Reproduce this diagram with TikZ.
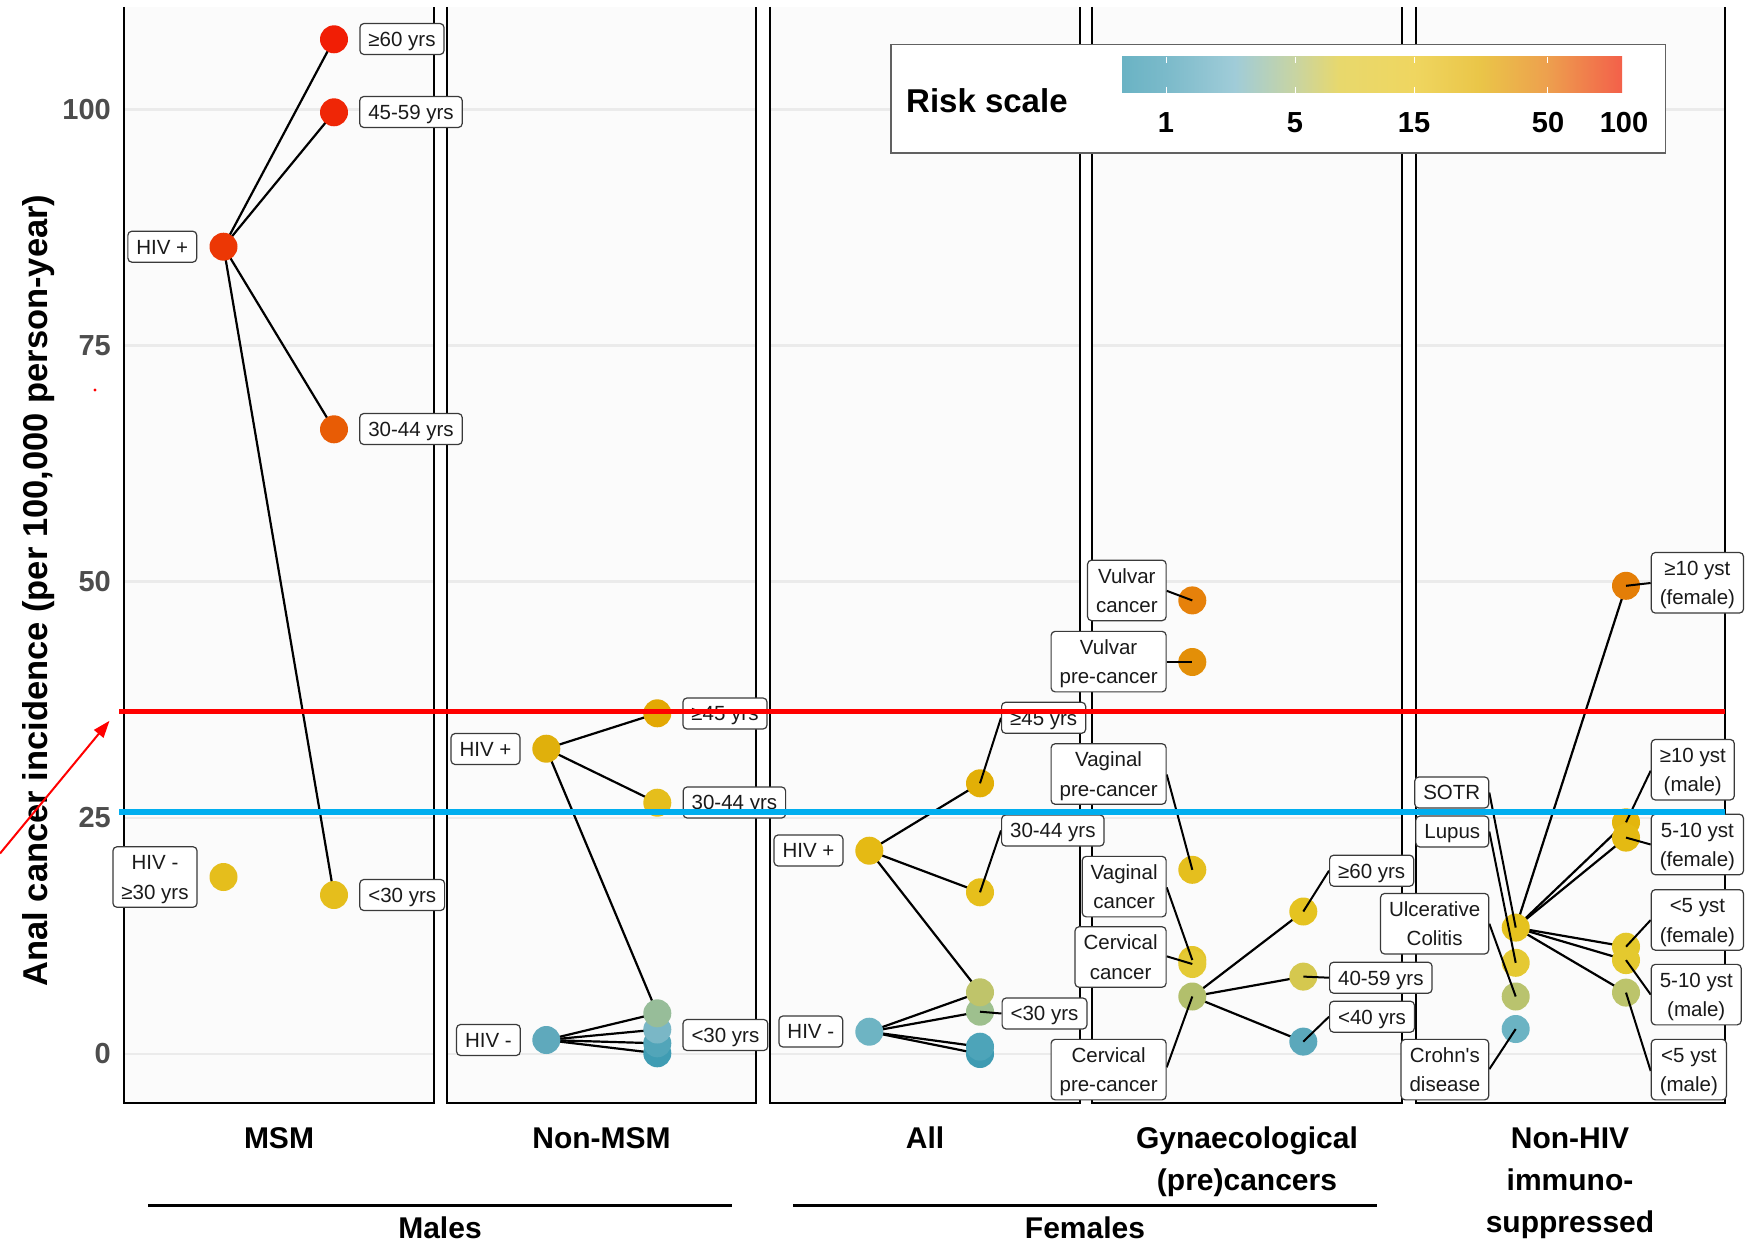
\documentclass[tikz,border=0pt]{standalone}
\usepackage{fontspec}
\setmainfont{Liberation Sans}[Ligatures=TeXOff]
\usetikzlibrary{arrows.meta}
\pgfdeclarelayer{back}
\pgfdeclarelayer{edges}
\pgfdeclarelayer{front}
\pgfsetlayers{back,edges,main,front}

\definecolor{panelbg}{HTML}{FBFBFB}
\definecolor{gridc}{HTML}{EBEBEB}
\definecolor{tickc}{HTML}{4D4D4D}
\definecolor{labborder}{HTML}{3A3A3A}
\definecolor{labtext}{HTML}{1A1A1A}
\definecolor{refred}{HTML}{FF0000}
\definecolor{refblue}{HTML}{00AEEF}
% risk scale
\definecolor{rs1}{HTML}{6AB3C4}
\definecolor{rs2}{HTML}{7BBACA}
\definecolor{rs3}{HTML}{A0CCD8}
\definecolor{rs4}{HTML}{C8D4A2}
\definecolor{rs5}{HTML}{E8D86C}
\definecolor{rs6}{HTML}{EFD660}
\definecolor{rs7}{HTML}{EAC548}
\definecolor{rs8}{HTML}{EDA04E}
\definecolor{rs9}{HTML}{F3604A}
% points
\definecolor{cRa}{HTML}{F11E05}
\definecolor{cRb}{HTML}{EF2606}
\definecolor{cRc}{HTML}{EC3705}
\definecolor{cOa}{HTML}{E85C05}
\definecolor{cYa}{HTML}{E5BE1C}
\definecolor{cNp}{HTML}{E0B00C}
\definecolor{cNa}{HTML}{E3A803}
\definecolor{cNn}{HTML}{5FA9BC}
\definecolor{cNc1}{HTML}{97BD99}
\definecolor{cNc2}{HTML}{7AB7C6}
\definecolor{cNc3}{HTML}{52A5B9}
\definecolor{cNc4}{HTML}{3F9CB3}
\definecolor{cAp}{HTML}{E5BA14}
\definecolor{cAa}{HTML}{E2AF06}
\definecolor{cAb}{HTML}{E6BF1B}
\definecolor{cAn}{HTML}{6EB4C3}
\definecolor{cAc1}{HTML}{BFC46A}
\definecolor{cAc2}{HTML}{9EC08E}
\definecolor{cAc3}{HTML}{4DA4B9}
\definecolor{cAc4}{HTML}{3E9BB2}
\definecolor{cGvc}{HTML}{E6810A}
\definecolor{cGvp}{HTML}{E38F08}
\definecolor{cGap}{HTML}{E5BF1E}
\definecolor{cGac}{HTML}{E4C52A}
\definecolor{cGcc}{HTML}{E4CA35}
\definecolor{cGcp}{HTML}{B2BF6C}
\definecolor{cGa}{HTML}{E5C320}
\definecolor{cGb}{HTML}{D5C84F}
\definecolor{cGc}{HTML}{5BA8BB}
\definecolor{cHa}{HTML}{E47E07}
\definecolor{cHb}{HTML}{E3B60E}
\definecolor{cHc}{HTML}{E4BA12}
\definecolor{cHd}{HTML}{E4C82A}
\definecolor{cHe}{HTML}{E4C92E}
\definecolor{cHf}{HTML}{BCC46B}
\definecolor{cHs}{HTML}{E5C21E}
\definecolor{cHl}{HTML}{E5C933}
\definecolor{cHu}{HTML}{B9C36E}
\definecolor{cHcr}{HTML}{6BB3C3}

\pgfdeclarehorizontalshading{riskshade}{100bp}{color(0bp)=(rs1); color(25bp)=(rs1); color(29.4bp)=(rs2); color(36.3bp)=(rs3); color(42.3bp)=(rs4); color(46.8bp)=(rs5); color(54.2bp)=(rs6); color(60.8bp)=(rs7); color(67.5bp)=(rs8); color(75bp)=(rs9); color(100bp)=(rs9)}

\newcommand{\lbs}{\rule[-4.3pt]{0pt}{23.3pt}}
\newcommand{\labfont}{\fontsize{20.5}{29.5}\selectfont}
\newcommand{\tickfont}{\fontsize{29}{34}\selectfont\bfseries}
\newcommand{\catfont}{\fontsize{30}{42}\selectfont\bfseries}
\newcommand{\titfont}{\fontsize{34.5}{40}\selectfont\bfseries}

\tikzset{
  pnt/.style={circle, minimum size=28pt, inner sep=0pt, draw=none},
  lab/.style={draw=labborder, line width=1.2pt, rounded corners=4pt, fill=white,
    text=labtext, inner xsep=8.5pt, inner ysep=3.85pt, align=center, font=\labfont},
  conn/.style={line width=2.2pt, black},
  leader/.style={line width=2pt, black},
  gridln/.style={line width=2.6pt, gridc},
  pborder/.style={line width=2.2pt, black},
  ticklab/.style={font=\tickfont, text=tickc, anchor=east, inner sep=0pt},
  catlab/.style={font=\catfont, text=black, anchor=base, inner sep=0pt},
  refline/.style={line width=5.2pt},
}

\begin{document}
\begin{tikzpicture}[x=1pt,y=-1pt]
\useasboundingbox (0,0) rectangle (1757,1244);

% ---------- panels ----------
\begin{pgfonlayer}{back}
\foreach \L/\R in {124/434, 447/756, 770/1080, 1092/1402, 1416/1725} {
  \fill[panelbg] (\L,7) rectangle (\R,1103);
  \foreach \v in {0,25,50,75,100}
    \draw[gridln] (\L,{1054-9.445*\v}) -- (\R,{1054-9.445*\v});
  \draw[pborder] (\L,7) -- (\L,1103) -- (\R,1103) -- (\R,7);
}
\end{pgfonlayer}

% ---------- y axis ----------
\node[ticklab] (t100) at (111,109.5) {100};
\node[ticklab] (t75) at (111,345.8) {75};
\node[ticklab] (t50) at (111,581.8) {50};
\node[ticklab] (t25) at (111,817.9) {25};
\node[ticklab] (t0) at (111,1054) {0};
\node[font=\titfont, rotate=90, anchor=base, inner sep=0pt] (ytitle) at (47,590.5)
  {Anal cancer incidence (per 100,000 person-year)};

% ---------- category labels ----------
\node[catlab] (cmsm) at (279,1148) {MSM};
\node[catlab] (cnon) at (601.5,1148) {Non-MSM};
\node[catlab] (call) at (925,1148) {All};
\node[catlab] (cgyn1) at (1247,1148) {Gynaecological};
\node[catlab] (cgyn2) at (1247,1190) {(pre)cancers};
\node[catlab] (chiv1) at (1570,1148) {Non-HIV};
\node[catlab] (chiv2) at (1570,1190) {immuno-};
\node[catlab] (chiv3) at (1570,1232) {suppressed};
\draw[line width=3pt] (148,1205) -- (732,1205);
\draw[line width=3pt] (793,1205) -- (1377,1205);
\node[catlab] (cmales) at (440,1238) {Males};
\node[catlab] (cfemales) at (1085,1238) {Females};

% ---------- legend ----------
\draw[draw=black!62, line width=1.5pt, fill=white] (891,44.5) rectangle (1665.5,153);
\node[font=\fontsize{33}{38}\selectfont\bfseries, anchor=base west, inner sep=0pt] (risk) at (906,112.5) {Risk scale};
\shade[shading=riskshade] (1122,57) rectangle (1622,93);
\foreach \x in {1166,1295,1414,1547} {
  \draw[white, line width=1pt] (\x,57) -- (\x,63) (\x,87) -- (\x,93);
}
\node[font=\tickfont, anchor=base, inner sep=0pt] (k1) at (1166,133) {1};
\node[font=\tickfont, anchor=base, inner sep=0pt] (k5) at (1295,133) {5};
\node[font=\tickfont, anchor=base, inner sep=0pt] (k15) at (1414,133) {15};
\node[font=\tickfont, anchor=base, inner sep=0pt] (k50) at (1548,133) {50};
\node[font=\tickfont, anchor=base, inner sep=0pt] (k100) at (1624,133) {100};

% ---------- points ----------
% MSM
\node[pnt, fill=cRa] (m60) at (334,39.3) {};
\node[pnt, fill=cRb] (m45) at (334,112.3) {};
\node[pnt, fill=cRc] (mp) at (223.5,246.7) {};
\node[pnt, fill=cOa] (m30) at (334,429.3) {};
\node[pnt, fill=cYa] (mn) at (223.5,877) {};
\node[pnt, fill=cYa] (m0) at (334,895) {};
% Non-MSM
\node[pnt, fill=cNp] (np) at (546.3,748.7) {};
\node[pnt, fill=cNa] (n45) at (657.3,713.3) {};
\node[pnt, fill=cYa] (n30) at (657.3,802.7) {};
\node[pnt, fill=cNn] (nn) at (546.3,1040) {};
\node[pnt, fill=cNc4] (nc4) at (657.3,1053.3) {};
\node[pnt, fill=cNc3] (nc3) at (657.3,1043.3) {};
\node[pnt, fill=cNc2] (nc2) at (657.3,1029.5) {};
\node[pnt, fill=cNc1] (nc1) at (657.3,1013.3) {};
% All
\node[pnt, fill=cAp] (ap) at (869.3,850.7) {};
\node[pnt, fill=cAa] (a45) at (980,783.3) {};
\node[pnt, fill=cAb] (a30) at (980,892.3) {};
\node[pnt, fill=cAn] (an) at (869.3,1031.7) {};
\node[pnt, fill=cAc4] (ac4) at (980,1054) {};
\node[pnt, fill=cAc3] (ac3) at (980,1046.7) {};
\node[pnt, fill=cAc2] (ac2) at (980,1011.7) {};
\node[pnt, fill=cAc1] (ac1) at (980,992.3) {};
% Gynaecological
\node[pnt, fill=cGvc] (gvc) at (1192.3,600.4) {};
\node[pnt, fill=cGvp] (gvp) at (1192.3,662) {};
\node[pnt, fill=cGap] (gap) at (1192.3,869.8) {};
\node[pnt, fill=cGac] (gac) at (1192.3,960) {};
\node[pnt, fill=cGcc] (gcc) at (1192.3,964) {};
\node[pnt, fill=cGcp] (gcp) at (1192.3,996.5) {};
\node[pnt, fill=cGa] (g60) at (1303.3,911.5) {};
\node[pnt, fill=cGb] (g45) at (1303.3,976.6) {};
\node[pnt, fill=cGc] (g40) at (1303.3,1041.6) {};
% Non-HIV
\node[pnt, fill=cHa] (h10f) at (1626,585.8) {};
\node[pnt, fill=cHb] (h10m) at (1626,822.3) {};
\node[pnt, fill=cHc] (h5f) at (1626,837.6) {};
\node[pnt, fill=cHd] (h0f) at (1626,946.7) {};
\node[pnt, fill=cHe] (h5m) at (1626,960.1) {};
\node[pnt, fill=cHf] (h0m) at (1626,992.6) {};
\node[pnt, fill=cHs] (hs) at (1515.7,927.6) {};
\node[pnt, fill=cHl] (hl) at (1515.7,962.8) {};
\node[pnt, fill=cHu] (hu) at (1515.7,996.5) {};
\node[pnt, fill=cHcr] (hc) at (1515.7,1029) {};

% ---------- connections (behind points) ----------
\begin{pgfonlayer}{edges}
\foreach \a/\b in {mp/m60, mp/m45, mp/m30, mp/m0,
                   np/n45, np/n30, np/nc1, nn/nc1, nn/nc2, nn/nc3, nn/nc4,
                   ap/a45, ap/a30, ap/ac1, an/ac1, an/ac2, an/ac3, an/ac4,
                   gcp/g60, gcp/g45, gcp/g40,
                   hs/h10f, hs/h10m, hs/h5f, hs/h0f, hs/h5m, hs/h0m}
  \draw[conn] (\a.center) -- (\b.center);
\end{pgfonlayer}

% ---------- leaders (on top of points) ----------
\coordinate (la45w) at (1001,717.8);
\coordinate (la30w) at (1001,830.5);
\coordinate (la0w) at (1001.5,1013.5);
\coordinate (lgvce) at (1166.7,590.8);
\coordinate (lgvpe) at (1166.7,662);
\coordinate (lgape) at (1166.7,774.5);
\coordinate (lgace) at (1166.7,887.4);
\coordinate (lgcce) at (1166.7,956.3);
\coordinate (lgcpe) at (1166.7,1067.3);
\coordinate (lg60w) at (1329,870.7);
\coordinate (lg45w) at (1329,977.7);
\coordinate (lg40w) at (1329,1016.7);
\coordinate (lhse) at (1489.3,792.5);
\coordinate (lhle) at (1489.3,831.5);
\coordinate (lhue) at (1489.3,923.7);
\coordinate (lhce) at (1489.3,1069.2);
\coordinate (lh10fw) at (1650.7,583);
\coordinate (lh10mw) at (1650.7,770.7);
\coordinate (lh5fw) at (1650.7,844.5);
\coordinate (lh0fw) at (1650.7,920);
\coordinate (lh5mw) at (1650.7,994.6);
\coordinate (lh0mw) at (1650.7,1071);
\foreach \a/\b in {la45w/a45, la30w/a30, la0w/ac2,
                   lgvce/gvc, lgvpe/gvp, lgape/gap, lgace/gac, lgcce/gcc, lgcpe/gcp,
                   lg60w/g60, lg45w/g45, lg40w/g40,
                   lhse/hs, lhle/hl, lhue/hu, lhce/hc,
                   lh10fw/h10f, lh10mw/h10m, lh5fw/h5f, lh0fw/h0f, lh5mw/h5m, lh0mw/h0m}
  \draw[leader] (\a) -- (\b.center);

% ---------- labels ----------
% MSM
\node[lab] (lm60) at (402,39) {\lbs ≥60 yrs};
\node[lab] (lm45) at (411,112) {\lbs 45-59 yrs};
\node[lab] (lmp) at (162.3,246.7) {\lbs HIV +};
\node[lab] (lm30) at (411,429) {\lbs 30-44 yrs};
\node[lab] (lmn) at (155,877) {\lbs HIV -\\\lbs ≥30 yrs};
\node[lab] (lm0) at (402.2,895) {\lbs <30 yrs};
% Non-MSM
\node[lab] (lnp) at (485.5,749) {\lbs HIV +};
\node[lab] (ln45) at (725,713.5) {\lbs ≥45 yrs};
\node[lab] (ln30) at (734.4,802.5) {\lbs 30-44 yrs};
\node[lab] (lnn) at (488.4,1040) {\lbs HIV -};
\node[lab] (ln0) at (725.4,1035) {\lbs <30 yrs};
% All
\node[lab] (lap) at (808.5,850.5) {\lbs HIV +};
\node[lab] (lan) at (810.8,1031.5) {\lbs HIV -};
\node[lab, anchor=west] (la45) at (la45w) {\lbs ≥45 yrs};
\node[lab, anchor=west] (la30) at (la30w) {\lbs 30-44 yrs};
\node[lab, anchor=west] (la0) at (la0w) {\lbs <30 yrs};
% Gynaecological
\node[lab, anchor=east] (lgvc) at (1166.7,590.4) {\lbs Vulvar\\\lbs cancer};
\node[lab, anchor=east] (lgvp) at (1166.7,661.6) {\lbs Vulvar\\\lbs pre-cancer};
\node[lab, anchor=east] (lgap) at (1166.7,774) {\lbs Vaginal\\\lbs pre-cancer};
\node[lab, anchor=east] (lgac) at (1166.7,886.6) {\lbs Vaginal\\\lbs cancer};
\node[lab, anchor=east] (lgcc) at (1166.7,957) {\lbs Cervical\\\lbs cancer};
\node[lab, anchor=east] (lgcp) at (1166.7,1069.6) {\lbs Cervical\\\lbs pre-cancer};
\node[lab, anchor=west] (lg60) at (lg60w) {\lbs ≥60 yrs};
\node[lab, anchor=west] (lg45) at (lg45w) {\lbs 40-59 yrs};
\node[lab, anchor=west] (lg40) at (lg40w) {\lbs <40 yrs};
% Non-HIV
\node[lab, anchor=east] (lhs) at (1489.3,792.5) {\lbs SOTR};
\node[lab, anchor=east] (lhl) at (1489.3,831.5) {\lbs Lupus};
\node[lab, anchor=east] (lhu) at (1489.3,923.7) {\lbs Ulcerative\\\lbs Colitis};
\node[lab, anchor=east] (lhc) at (1489.3,1069.6) {\lbs Crohn's\\\lbs disease};
\node[lab, anchor=west] (lh10f) at (1650.7,582.8) {\lbs ≥10 yst\\\lbs (female)};
\node[lab, anchor=west] (lh10m) at (1650.7,769.7) {\lbs ≥10 yst\\\lbs (male)};
\node[lab, anchor=west] (lh5f) at (1650.7,844.5) {\lbs 5-10 yst\\\lbs (female)};
\node[lab, anchor=west] (lh0f) at (1650.7,919.9) {\lbs <5 yst\\\lbs (female)};
\node[lab, anchor=west] (lh5m) at (1650.7,994.6) {\lbs 5-10 yst\\\lbs (male)};
\node[lab, anchor=west] (lh0m) at (1650.7,1069.6) {\lbs <5 yst\\\lbs (male)};

% ---------- reference lines and arrow (on top) ----------
\begin{pgfonlayer}{front}
\coordinate (redL) at (119,711.2);
\coordinate (redR) at (1725,711.2);
\coordinate (bluL) at (119,812);
\coordinate (bluR) at (1725,812);
\draw[refline, refred] (redL) -- (redR);
\draw[refline, refblue] (bluL) -- (bluR);
\coordinate (arrS) at (0,853.5);
\coordinate (arrE) at (109.5,720.8);
\draw[refred, line width=2pt, -{Triangle[length=17pt,width=12pt]}] (arrS) -- (arrE);
\fill[refred] (95,390) circle (1.6pt);
\end{pgfonlayer}
\end{tikzpicture}
\end{document}
